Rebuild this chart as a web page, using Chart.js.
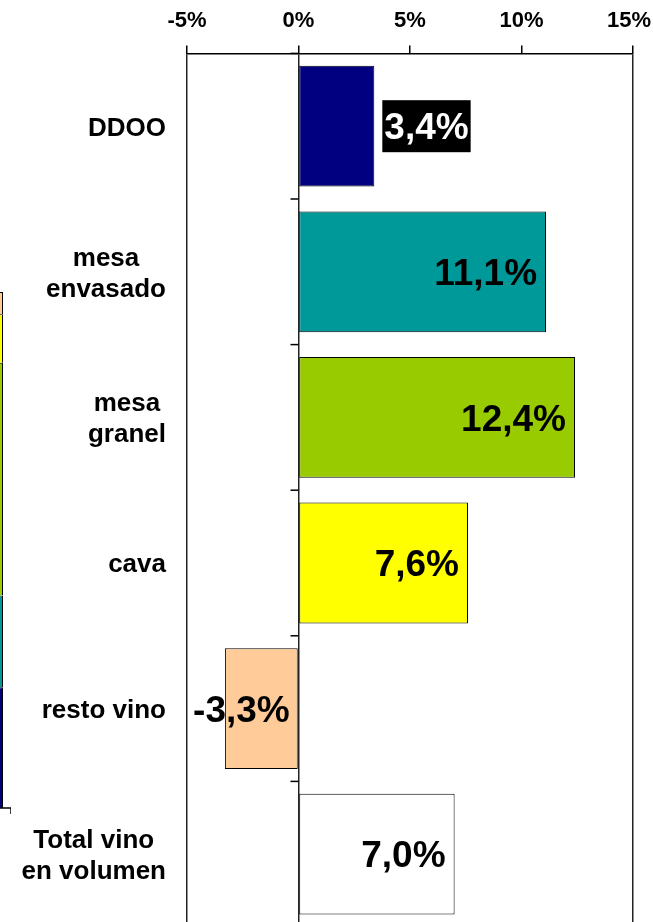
<!DOCTYPE html>
<html><head><meta charset="utf-8">
<script src="https://cdn.jsdelivr.net/npm/chart.js@4"></script>
<style>
html,body{margin:0;padding:0;background:#fff;overflow:hidden;width:653px;height:922px;position:relative}
#main{position:absolute;left:0;top:-6px}
#side{position:absolute;left:-89px;top:0}
</style></head><body>
<canvas id="side" width="100" height="922"></canvas>
<canvas id="main" width="653" height="941"></canvas>
<script>
// ---- data ----
const categories = ['DDOO', ['mesa', 'envasado'], ['mesa', 'granel'], 'cava', 'resto vino', ['Total vino', 'en volumen']];
const values = [3.4, 11.1, 12.4, 7.6, -3.3, 7.0];
const barColors = ['#000080', '#009999', '#99CC00', '#FFFF00', '#FFCC99', '#FFFFFF'];
const tickValues = [-5, 0, 5, 10, 15];
// partially visible neighbouring chart (stacked shares)
const sideSegments = ['DDOO', 'mesa envasado', 'mesa granel', 'cava', 'resto vino'];
const sideValues = [23.4, 17.8, 45.1, 9.4, 4.3];
const sideColors = ['#000080', '#009999', '#99CC00', '#FFFF00', '#FFCC99'];

const FONT = "'Liberation Sans', Arial, Helvetica, sans-serif";
const TICK_SIZE = 22, TICK_PAD = 11, TICK_LEN = 8;
const fmt = v => v.toFixed(1).replace('.', ',') + '%';
const tickText = v => v + '%';
const tickFont = 'bold ' + TICK_SIZE + 'px ' + FONT;
function measure(t) {
  const c = document.createElement('canvas').getContext('2d');
  c.font = tickFont; return c.measureText(t).width;
}
// labels that would run off the canvas are drawn clamped inside it
function overflows(chart, value) {
  const xs = chart.scales.x;
  const px = xs.getPixelForValue(value), w = measure(tickText(value));
  return px + w / 2 > chart.width - 1 || px - w / 2 < 1;
}

const drawPlugin = {
  id: 'drawExtras',
  afterDraw(chart) {
    const ctx = chart.ctx, xs = chart.scales.x, ys = chart.scales.y, area = chart.chartArea;
    const zero = xs.getPixelForValue(0);
    const band = ys.getPixelForValue(1) - ys.getPixelForValue(0);
    const n = categories.length;
    ctx.save();
    // clamped tick labels
    ctx.font = tickFont; ctx.fillStyle = '#000'; ctx.textBaseline = 'middle'; ctx.textAlign = 'center';
    const ly = xs.bottom - TICK_LEN - TICK_PAD - TICK_SIZE * 1.2 / 2;
    tickValues.forEach(v => {
      if (!overflows(chart, v)) return;
      const t = tickText(v), w = ctx.measureText(t).width;
      let x = xs.getPixelForValue(v);
      x = Math.min(Math.max(x, w / 2 + 2), chart.width - w / 2 - 2);
      ctx.fillText(t, x, ly);
    });
    // category ticks on the zero line
    ctx.strokeStyle = '#000'; ctx.lineWidth = 1.5;
    for (let i = 0; i <= n; i++) {
      const y = ys.getPixelForValue(0) - band / 2 + i * band;
      ctx.beginPath(); ctx.moveTo(zero - 8, y); ctx.lineTo(zero, y); ctx.stroke();
    }
    // category labels: right-aligned block, centred lines
    const cs = 26, lineH = 31, capC = 0.716 * cs;
    ctx.font = 'bold ' + cs + 'px ' + FONT;
    ctx.fillStyle = '#000'; ctx.textAlign = 'center'; ctx.textBaseline = 'alphabetic';
    const rightEdge = area.left - 21;
    categories.forEach((c, i) => {
      const lines = Array.isArray(c) ? c : [c];
      const maxW = Math.max(...lines.map(l => ctx.measureText(l).width));
      const cx = rightEdge - maxW / 2;
      const total = capC + (lines.length - 1) * lineH;
      const yc = ys.getPixelForValue(i);
      lines.forEach((l, j) => ctx.fillText(l, cx, yc - total / 2 + capC + j * lineH));
    });
    // value labels
    const vs = 37, capV = 0.716 * vs;
    ctx.font = 'bold ' + vs + 'px ' + FONT;
    const meta = chart.getDatasetMeta(0);
    meta.data.forEach((el, i) => {
      const v = values[i], t = fmt(v), tw = ctx.measureText(t).width;
      const by = el.y + capV / 2;
      if (v >= 0) {
        const barW = el.x - el.base;
        if (tw + 20 > barW) {
          ctx.fillStyle = '#000';
          ctx.fillRect(el.x + 8, el.y - 26, tw + 4, 52);
          ctx.fillStyle = '#fff'; ctx.textAlign = 'left';
          ctx.fillText(t, el.x + 10, by);
        } else {
          ctx.fillStyle = '#000'; ctx.textAlign = 'right';
          ctx.fillText(t, el.x - 9, by);
        }
      } else {
        ctx.fillStyle = '#000'; ctx.textAlign = 'right';
        ctx.fillText(t, el.base - 8, by);
      }
    });
    ctx.restore();
  }
};

new Chart(document.getElementById('main'), {
  type: 'bar',
  data: {
    labels: categories,
    datasets: [{
      data: values,
      backgroundColor: barColors,
      borderColor: '#000',
      borderWidth: 1,
      borderSkipped: false,
      categoryPercentage: 0.83,
      barPercentage: 1
    }]
  },
  options: {
    indexAxis: 'y',
    responsive: false,
    animation: false,
    layout: { padding: { left: 187, right: 20, top: 3, bottom: 8 } },
    plugins: { legend: { display: false }, tooltip: { enabled: false } },
    scales: {
      x: {
        position: 'top',
        min: -5, max: 15,
        afterBuildTicks: s => { s.ticks = tickValues.map(v => ({ value: v })); },
        afterFit: s => { s.paddingRight = 0; s.paddingLeft = 0; },
        ticks: {
          callback: v => tickText(v),
          font: { family: FONT, size: TICK_SIZE, weight: 'bold' },
          color: c => (c.chart.chartArea && overflows(c.chart, c.tick.value)) ? 'rgba(0,0,0,0)' : '#000',
          padding: TICK_PAD, maxRotation: 0, autoSkip: false
        },
        grid: {
          color: c => (c.tick && [-5, 0, 15].includes(c.tick.value)) ? '#222' : 'rgba(0,0,0,0)',
          tickColor: '#000',
          tickLength: TICK_LEN,
          lineWidth: 1.5
        },
        border: { display: true, color: '#000', width: 1.5 }
      },
      y: { display: false }
    }
  },
  plugins: [drawPlugin]
});

const sideAxis = {
  id: 'sideAxis',
  afterDraw(chart) {
    const ctx = chart.ctx, a = chart.chartArea;
    ctx.save();
    ctx.strokeStyle = '#000'; ctx.lineWidth = 1.5;
    ctx.beginPath();
    ctx.moveTo(a.left, a.bottom); ctx.lineTo(a.right, a.bottom); ctx.lineTo(a.right, a.bottom + 6);
    ctx.stroke();
    ctx.restore();
  }
};

new Chart(document.getElementById('side'), {
  type: 'bar',
  data: {
    labels: [''],
    datasets: sideValues.map((v, i) => ({
      label: sideSegments[i], data: [v],
      backgroundColor: sideColors[i], borderColor: '#000', borderWidth: 1,
      categoryPercentage: 1, barPercentage: 0.84
    }))
  },
  options: {
    responsive: false, animation: false,
    layout: { padding: { top: 292, bottom: 114, left: 0, right: 0 } },
    plugins: { legend: { display: false }, tooltip: { enabled: false } },
    scales: {
      x: { display: false, stacked: true },
      y: { display: false, stacked: true, min: 0, max: sideValues.reduce((a, b) => a + b, 0) }
    }
  },
  plugins: [sideAxis]
});
</script>
</body></html>
